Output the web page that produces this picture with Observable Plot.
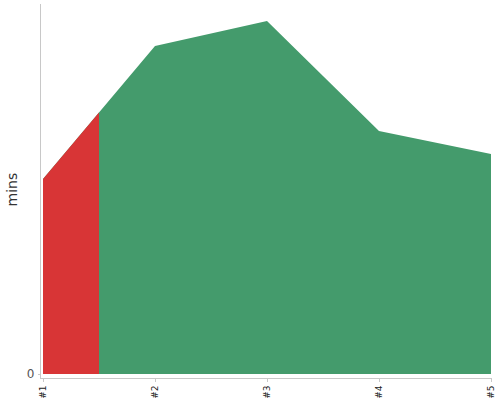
<!DOCTYPE html>
<html>
<head>
<meta charset="utf-8">
<script src="https://cdn.jsdelivr.net/npm/d3@7"></script>
<script src="https://cdn.jsdelivr.net/npm/@observablehq/plot@0.6"></script>
<style>
  body { margin: 0; background: #fff; }
</style>
</head>
<body>
<div id="chart"></div>
<script>
const runs = [1, 2, 3, 4, 5];
const runLabels = ["#1", "#2", "#3", "#4", "#5"];
const mins = [19.5, 32.8, 35.3, 24.3, 22.0];
const yMax = 37;
const highlightEnd = 1.5; // red segment ends half a step after run #1

const data = runs.map((r, i) => ({run: r, mins: mins[i]}));

function clipTo(x0, x1, id) {
  return (index, scales, values, dimensions, context, next) => {
    const g = next(index, scales, values, dimensions, context);
    const ns = "http://www.w3.org/2000/svg";
    const wrap = context.document.createElementNS(ns, "g");
    const cp = context.document.createElementNS(ns, "clipPath");
    cp.setAttribute("id", id);
    const rect = context.document.createElementNS(ns, "rect");
    const a = scales.x(x0), b = scales.x(x1);
    rect.setAttribute("x", Math.min(a, b));
    rect.setAttribute("y", 0);
    rect.setAttribute("width", Math.abs(b - a));
    rect.setAttribute("height", dimensions.height);
    cp.appendChild(rect);
    wrap.appendChild(cp);
    g.setAttribute("clip-path", `url(#${id})`);
    wrap.appendChild(g);
    return wrap;
  };
}

const chart = Plot.plot({
  width: 500,
  height: 400,
  marginLeft: 40,
  marginRight: 9,
  marginTop: 4,
  marginBottom: 22,
  style: {fontFamily: "DejaVu Sans, sans-serif", background: "#fff"},
  x: {type: "linear", domain: [1, 5], insetLeft: 3},
  y: {domain: [0, yMax], insetBottom: 4},
  marks: [
    Plot.areaY(data, {x: "run", y: "mins", fill: "#449b6c"}),
    Plot.areaY(data, {x: "run", y: "mins", fill: "#d83536", render: clipTo(1, highlightEnd, "red-clip")}),
    Plot.frame({anchor: "left", stroke: "#c8c8c8"}),
    Plot.frame({anchor: "bottom", stroke: "#c8c8c8"}),
    Plot.axisX({
      ticks: runs,
      tickFormat: (d) => runLabels[runs.indexOf(d)],
      tickRotate: -90,
      tickSize: 4,
      tickPadding: 3,
      fontSize: 9,
      stroke: "#c8c8c8",
      color: "#222",
      label: null
    }),
    Plot.axisY({
      ticks: [0],
      tickFormat: (d) => String(d),
      tickSize: 2,
      tickPadding: 4,
      fontSize: 12,
      stroke: "#c8c8c8",
      color: "#555",
      label: null
    }),
    Plot.text(["mins"], {
      frameAnchor: "left",
      rotate: -90,
      dx: -28,
      dy: 15,
      fontSize: 14,
      fill: "#333"
    })
  ]
});

document.getElementById("chart").appendChild(chart);
</script>
</body>
</html>
